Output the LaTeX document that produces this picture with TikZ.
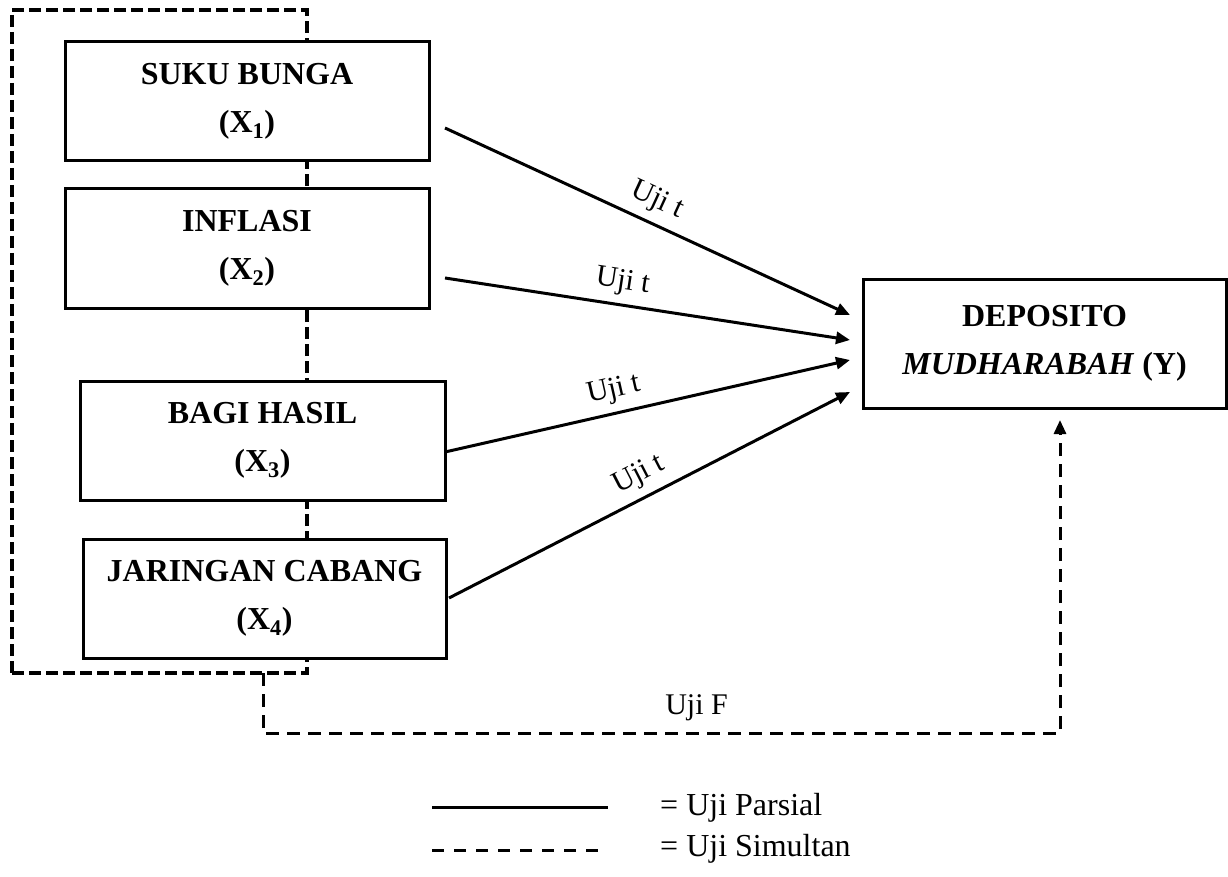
\documentclass[tikz,border=0pt]{standalone}
\usepackage{fontspec}
\setmainfont{Liberation Serif}
\usetikzlibrary{arrows.meta,calc}
\begin{document}
\begin{tikzpicture}[x=1pt,y=-1pt,
  varbox/.style={draw,line width=3pt,fill=white,inner sep=0pt,outer sep=0pt,
    align=center,font=\fontsize{32}{48}\selectfont\bfseries},
  grpbox/.style={draw,line width=4pt,dash pattern=on 12pt off 5pt,inner sep=0pt,outer sep=0pt},
  parsial/.style={line width=3pt,-{Triangle[length=14pt,width=12pt]}},
  simultan/.style={line width=3pt,dash pattern=on 13pt off 8pt},
  lbl/.style={font=\fontsize{30}{36}\selectfont,sloped,above=6pt,inner sep=2pt},
  legtext/.style={font=\fontsize{32}{38}\selectfont,anchor=base west,inner sep=0pt}]
\useasboundingbox (0,0) rectangle (1228,877);

% group frame around the independent variables
\node[grpbox,minimum width=295pt,minimum height=663pt] (grp) at (159.5,341.5) {};

% independent variables
\node[varbox,minimum width=364pt,minimum height=119pt] (X1) at (247,101.5) {SUKU BUNGA\\(X\textsubscript{1})};
\node[varbox,minimum width=364pt,minimum height=119pt] (X2) at (247,248.5) {INFLASI\\(X\textsubscript{2})};
\node[varbox,minimum width=365pt,minimum height=119pt] (X3) at (262.5,440.5) {BAGI HASIL\\(X\textsubscript{3})};
\node[varbox,minimum width=363pt,minimum height=119pt] (X4) at (264.5,598.5) {JARINGAN CABANG\\(X\textsubscript{4})};

% dependent variable
\node[varbox,minimum width=363pt,minimum height=129pt] (Y) at (1044.5,343.5) {DEPOSITO\\\textit{MUDHARABAH} (Y)};

% partial tests
\draw[parsial] ($(X1.east)+(16,26.5)$) -- node[lbl,pos=0.50]{Uji t} ($(Y.west)+(-13,-28.5)$);
\draw[parsial] ($(X2.east)+(16,29.5)$) -- node[lbl,pos=0.43]{Uji t} ($(Y.west)+(-13,-3.5)$);
\draw[parsial] ($(X3.east)+(0,11.5)$) -- node[lbl,pos=0.43]{Uji t} ($(Y.west)+(-13,16.5)$);
\draw[parsial] ($(X4.east)+(3,-0.5)$) -- node[lbl,pos=0.50]{Uji t} ($(Y.west)+(-13,48.5)$);

% simultaneous test
\coordinate (fcorner) at (1060,733);
\draw[simultan,-{Triangle[length=14pt,width=12pt]}]
  ($(grp.south)+(103.5,0)$) |- node[pos=0.772,above=9pt,inner sep=2pt,font=\fontsize{30}{36}\selectfont]{Uji F}
  (fcorner) -- ($(Y.south)+(15.5,12)$);

% legend
\coordinate (ls1) at (432,807);
\coordinate (ls2) at (608,807);
\coordinate (ld1) at (432,850);
\coordinate (ld2) at (601,850);
\draw[line width=3pt] (ls1) -- (ls2);
\draw[line width=3pt,dash pattern=on 12pt off 10pt] (ld1) -- (ld2);
\node[legtext] (lp) at (660,815) {= Uji Parsial};
\node[legtext] (lsm) at (660,856) {= Uji Simultan};
\end{tikzpicture}
\end{document}
